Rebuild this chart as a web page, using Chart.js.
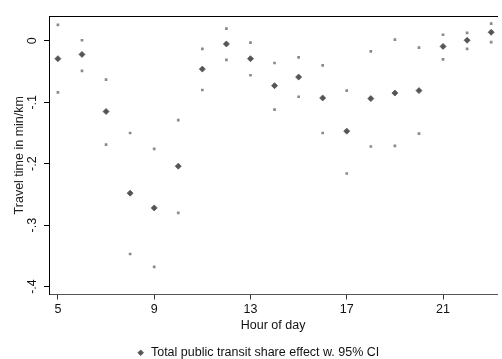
<!DOCTYPE html>
<html>
<head>
<meta charset="utf-8">
<script src="https://cdn.jsdelivr.net/npm/chart.js@4"></script>
<style>
  html, body { margin: 0; padding: 0; background: #fff; }
  #wrap { width: 502px; height: 359px; }
</style>
</head>
<body>
<div id="wrap"><canvas id="chart"></canvas></div>
<script>
// hour of day and the estimated effect (min/km) with its 95% bounds
const hours = [5, 6, 7, 8, 9, 10, 11, 12, 13, 14, 15, 16, 17, 18, 19, 20, 21, 22, 23];
const estimate = [-0.029, -0.022, -0.115, -0.248, -0.272, -0.204, -0.046, -0.005, -0.029, -0.073,
                  -0.059, -0.093, -0.147, -0.094, -0.085, -0.081, -0.009, 0.001, 0.014];
const ciUpper = [0.026, 0.001, -0.063, -0.150, -0.176, -0.129, -0.013, 0.020, -0.003, -0.036,
                 -0.027, -0.040, -0.081, -0.017, 0.002, -0.011, 0.010, 0.013, 0.028];
const ciLower = [-0.084, -0.049, -0.169, -0.347, -0.368, -0.280, -0.080, -0.031, -0.056, -0.112,
                 -0.091, -0.150, -0.216, -0.172, -0.171, -0.151, -0.030, -0.013, -0.002];

const xTicks = [5, 9, 13, 17, 21];
const yTicks = [-0.4, -0.3, -0.2, -0.1, 0];

const font = { family: "'Liberation Sans', Arial, sans-serif", size: 12.5 };

// Stata style labels: "-.1" instead of "-0.1"
function stataNum(v) {
  v = Math.round(v * 10) / 10;
  if (v === 0) return "0";
  return (v < 0 ? "-" : "") + String(Math.abs(v)).replace(/^0/, "");
}

const ciPoints = [];
hours.forEach((h, i) => {
  ciPoints.push({ x: h, y: ciUpper[i] });
  ciPoints.push({ x: h, y: ciLower[i] });
});

// legend is centred under the plot region, not the whole canvas
const legendNudge = {
  id: "legendNudge",
  afterLayout(chart) {
    chart.legend.left += 7;
    chart.legend.right += 7;
  }
};

new Chart(document.getElementById("chart"), {
  type: "scatter",
  data: {
    datasets: [
      {
        label: "Total public transit share effect w. 95% CI",
        data: hours.map((h, i) => ({ x: h, y: estimate[i] })),
        pointStyle: "rectRot",
        pointRadius: 3,
        borderWidth: 0.8,
        backgroundColor: "#555555",
        borderColor: "#555555"
      },
      {
        label: "95% CI",
        data: ciPoints,
        pointStyle: "rect",
        pointRadius: 1.9,
        borderWidth: 0,
        backgroundColor: "#8a8a8a",
        borderColor: "#8a8a8a"
      }
    ]
  },
  plugins: [legendNudge],
  options: {
    responsive: true,
    maintainAspectRatio: false,
    animation: false,
    // legend sits low, so let its box run past the bottom edge
    layout: { padding: { top: 16, right: 0, left: 0, bottom: -10 } },
    plugins: {
      tooltip: { enabled: false },
      legend: {
        position: "bottom",
        labels: {
          filter: item => item.datasetIndex === 0,
          usePointStyle: true,
          boxWidth: 8,
          boxHeight: 4,
          padding: 6,
          color: "#111",
          font: font
        }
      }
    },
    scales: {
      x: {
        type: "linear",
        min: 4.63,
        max: 23.25,
        afterBuildTicks: scale => { scale.ticks = xTicks.map(v => ({ value: v })); },
        afterFit: scale => { scale.height = 46; },
        grid: { drawOnChartArea: false, tickLength: 5, color: "#333" },
        border: { color: "#555", width: 1 },
        ticks: { color: "#111", font: font, padding: 3, maxRotation: 0 },
        title: { display: true, text: "Hour of day", color: "#111", font: font, padding: { top: 0, bottom: 7 } }
      },
      top: {
        type: "linear",
        position: "top",
        min: 0,
        max: 1,
        afterFit: scale => { scale.height = 0; },
        grid: { drawOnChartArea: false, drawTicks: false },
        border: { color: "#000", width: 1 },
        ticks: { display: false }
      },
      y: {
        type: "linear",
        min: -0.413,
        max: 0.0405,
        afterBuildTicks: scale => { scale.ticks = yTicks.map(v => ({ value: v })); },
        afterFit: scale => { scale.width = 49; },
        grid: { drawOnChartArea: false, tickLength: 5, color: "#000" },
        border: { color: "#000", width: 1 },
        ticks: {
          color: "#111",
          font: font,
          padding: 4,
          minRotation: 90,
          maxRotation: 90,
          crossAlign: "center",
          callback: v => stataNum(v)
        },
        title: {
          display: true,
          text: "Travel time in min/km",
          color: "#222",
          font: font,
          padding: { top: 12, bottom: 0 }
        }
      }
    }
  }
});
</script>
</body>
</html>
